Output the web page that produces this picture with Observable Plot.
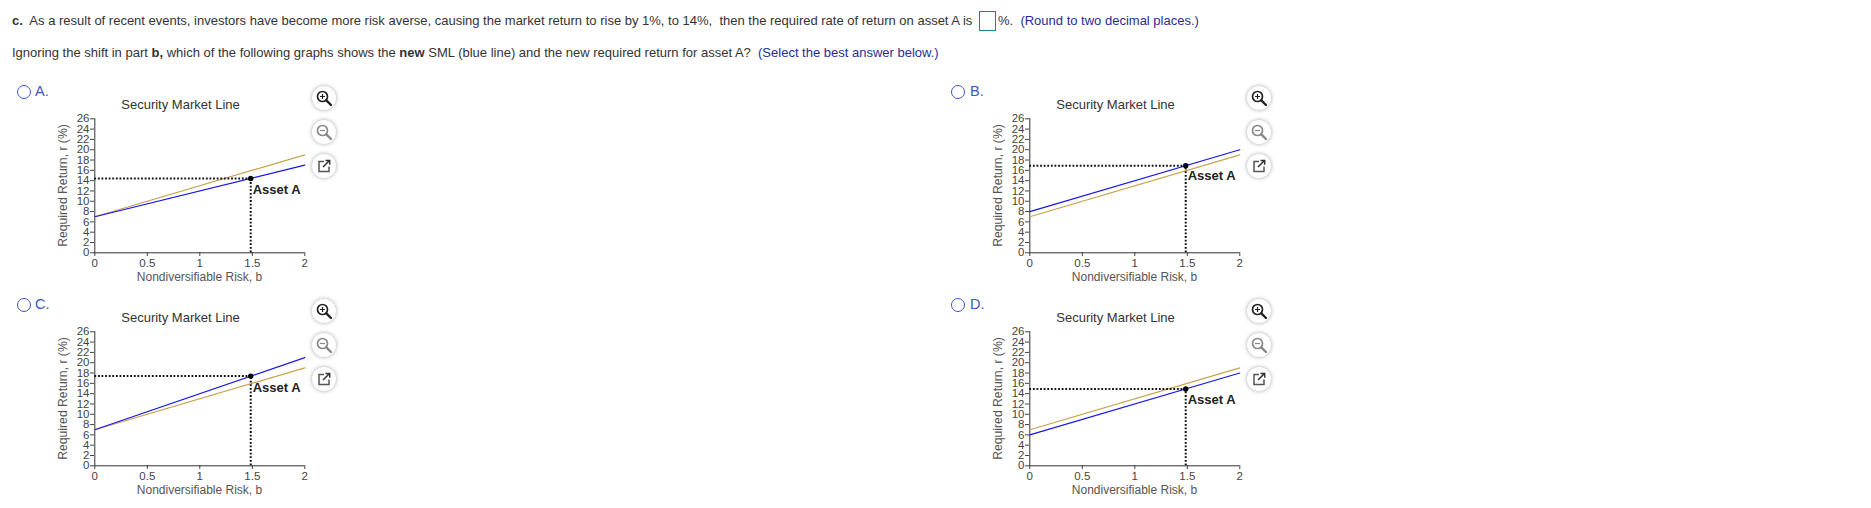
<!DOCTYPE html>
<html><head><meta charset="utf-8">
<script src="https://cdn.jsdelivr.net/npm/d3@7"></script>
<script src="https://cdn.jsdelivr.net/npm/@observablehq/plot@0.6"></script>
<style>
html,body{margin:0;padding:0;background:#fff;overflow:hidden}
body{position:relative;width:1871px;height:508px;font-family:"Liberation Sans",Arial,sans-serif;color:#333}
.t{position:absolute;white-space:pre;font-size:13px;line-height:16px}
.b{color:#2b2b9b}
.opt{position:absolute;color:#3b55c9;font-size:14.5px;line-height:16px;font-weight:400}
.radio{position:absolute;width:12px;height:12px;border:1.3px solid #3b55c9;border-radius:50%}
.box{position:absolute;left:979px;top:11px;width:15px;height:18px;border:1px solid #1a7f9c}
.panel{position:absolute}
.ic{position:absolute;width:24px;height:24px;border-radius:50%;background:#fff;box-shadow:0 0 4px rgba(0,0,0,.35)}
.ic svg{position:absolute;left:0;top:0;width:24px;height:24px}
</style></head><body>
<div class="t" style="left:12px;top:13px"><b>c.</b>  As a result of recent events, investors have become more risk averse, causing the market return to rise by 1%, to 14%,  then the required rate of return on asset A is</div>
<div class="box"></div>
<div class="t" style="left:998px;top:13px">%.  <span class="b">(Round to two decimal places.)</span></div>
<div class="t" style="left:12px;top:45px">Ignoring the shift in part <b>b,</b> which of the following graphs shows the <b>new</b> SML (blue line) and the new required return for asset A?  <span class="b">(Select the best answer below.)</span></div>
<script>
const betaRange = [0, 2];
const oldSml = [7, 19];
const panelNames = ["A.", "B.", "C.", "D."];
const newSmlA = [7, 17];
const newSmlB = [8, 20];
const newSmlC = [7, 21];
const newSmlD = [6, 18];
const assetBeta = 1.485;
const assetReturns = [14.43, 16.91, 17.4, 14.91];
const labelOffsets = [-2.24, -2.05, -2.24, -2.05];
const yTicks = d3.range(0, 27, 2);
const xTicks = [0, 0.5, 1, 1.5, 2];
const newSml = [newSmlA, newSmlB, newSmlC, newSmlD];
const lefts = [40, 975, 40, 975];
const tops = [85, 85, 298, 298];
const radioPos = [[17, 85], [951, 85], [17, 298], [951, 298]];
const labelPos = [[35, 83], [970, 83], [35, 296], [970, 296]];
const iconLefts = [312, 1247, 312, 1247];
const iconTops = [86, 86, 299, 299];

const lens = (minus, plus, col) => `<svg viewBox="0 0 24 24"><circle cx="10.5" cy="10.5" r="5" fill="none" stroke="${col}" stroke-width="1.7"/><path d="M14.3 14.3L19 19" stroke="${col}" stroke-width="2.4" stroke-linecap="round"/><path d="M8 10.5h5${plus ? "M10.5 8v5" : ""}" stroke="${col}" stroke-width="1.2"/></svg>`;
const pop = `<svg viewBox="0 0 24 24"><path d="M12 7.5H7v10h10v-5" fill="none" stroke="#555" stroke-width="1.5"/><path d="M11 13L17 7M13.5 6.5h4.2v4.2" fill="none" stroke="#333" stroke-width="1.5"/></svg>`;

panelNames.forEach((name, i) => {
  const line = betaRange.map((b, k) => ({b, r: newSml[i][k]}));
  const old = betaRange.map((b, k) => ({b, r: oldSml[k]}));
  const ra = assetReturns[i];
  const svg = Plot.plot({
    width: 275, height: 205,
    marginLeft: 54, marginRight: 11, marginTop: 33, marginBottom: 38,
    style: {fontFamily: '"Liberation Sans",Arial,sans-serif', background: "transparent", overflow: "visible"},
    x: {domain: betaRange, range: [54.3, 264.3]},
    y: {domain: [0, 26], range: [167.3, 33.3]},
    marks: [
      Plot.axisY({ticks: yTicks, tickSize: 4, tickPadding: 1, fontSize: 11.5, color: "#444", label: null, tickFormat: d => d}),
      Plot.axisX({ticks: xTicks, tickSize: 4, tickPadding: 2, fontSize: 11.5, color: "#444", label: null, tickFormat: d => d}),
      Plot.ruleX([0], {stroke: "#333"}),
      Plot.ruleY([0], {stroke: "#333"}),
      Plot.line(old, {x: "b", y: "r", stroke: "#c8a24e", strokeWidth: 1.2}),
      Plot.line(line, {x: "b", y: "r", stroke: "#1616e6", strokeWidth: 1.2}),
      Plot.ruleY([ra], {x1: 0, x2: assetBeta, stroke: "#111", strokeWidth: 2, strokeDasharray: "1.8 1.8"}),
      Plot.ruleX([assetBeta], {y1: 0, y2: ra, stroke: "#111", strokeWidth: 2, strokeDasharray: "1.8 1.8"}),
      Plot.dot([{b: assetBeta, r: ra}], {x: "b", y: "r", r: 2.7, fill: "#000"}),
      Plot.text(["Asset A"], {x: assetBeta, y: ra + labelOffsets[i], dx: 2, text: d => d, textAnchor: "start", fontSize: 13, fontWeight: "bold", fill: "#222"}),
      Plot.text(["Security Market Line"], {frameAnchor: "top", dy: -19, dx: -19, text: d => d, fontSize: 13, fill: "#333", lineAnchor: "top"}),
      Plot.text(["Nondiversifiable Risk, b"], {frameAnchor: "bottom", dy: 28, dx: 0, text: d => d, fontSize: 12, fill: "#555", lineAnchor: "bottom"}),
      Plot.text(["Required Return, r (%)"], {frameAnchor: "left", textAnchor: "middle", dx: -31, rotate: -90, text: d => d, fontSize: 12.2, fill: "#555"})
    ]
  });
  const wrap = document.createElement("div");
  wrap.className = "panel";
  wrap.style.left = lefts[i] + "px";
  wrap.style.top = tops[i] + "px";
  wrap.appendChild(svg);
  document.body.appendChild(wrap);

  const radio = document.createElement("div");
  radio.className = "radio";
  radio.style.left = radioPos[i][0] + "px";
  radio.style.top = radioPos[i][1] + "px";
  document.body.appendChild(radio);

  const opt = document.createElement("div");
  opt.className = "opt";
  opt.textContent = name;
  opt.style.left = labelPos[i][0] + "px";
  opt.style.top = labelPos[i][1] + "px";
  document.body.appendChild(opt);

  [lens(0, 1, "#222"), lens(1, 0, "#888"), pop].forEach((html, k) => {
    const ic = document.createElement("div");
    ic.className = "ic";
    ic.innerHTML = html;
    ic.style.left = iconLefts[i] + "px";
    ic.style.top = iconTops[i] + k * 34 + "px";
    document.body.appendChild(ic);
  });
});
</script>
</body></html>
